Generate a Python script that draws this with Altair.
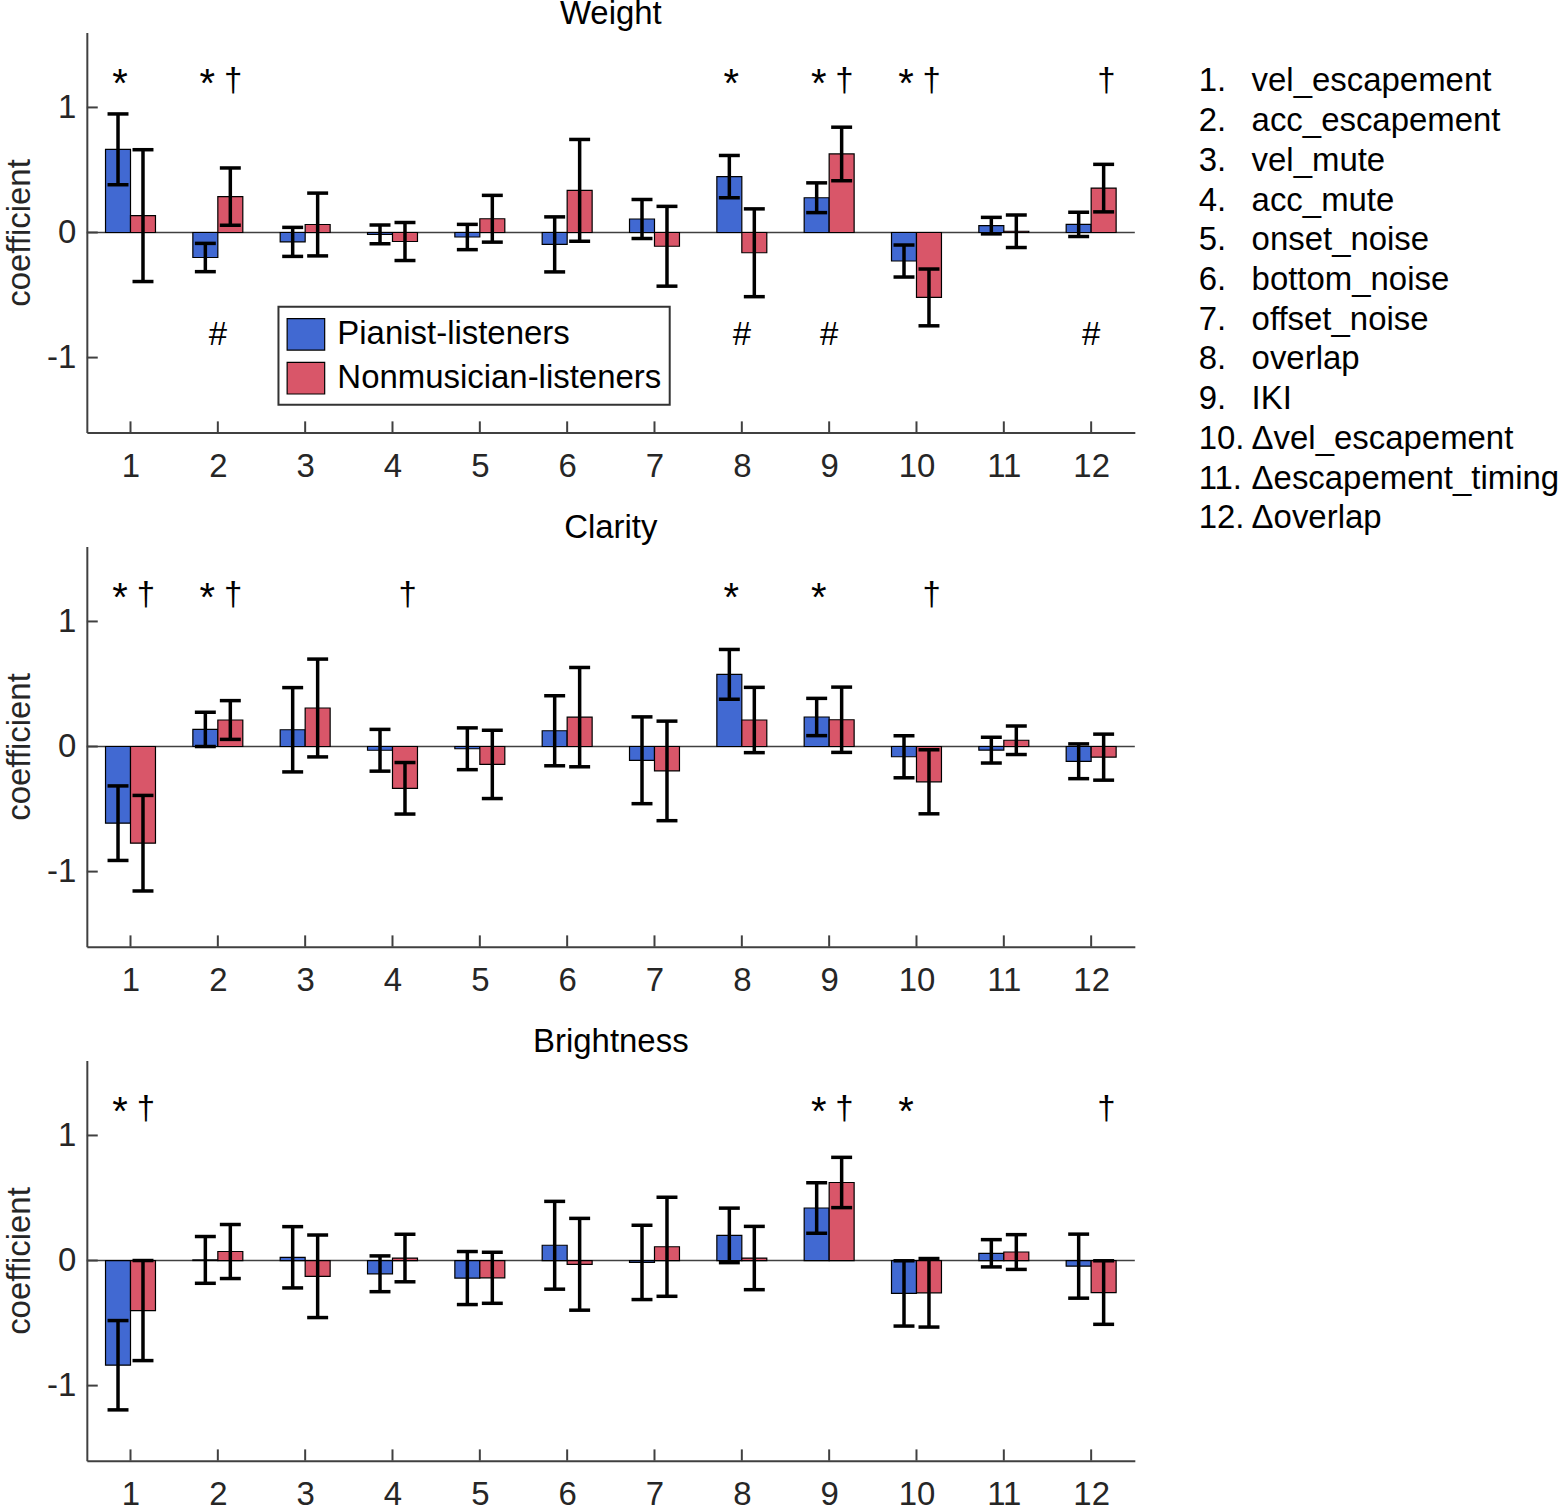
import altair as alt
import pandas as pd

# ---------------- data ----------------
categories = list(range(1, 13))
groups = ["Pianist-listeners", "Nonmusician-listeners"]
colors = ["#4169D2", "#D95669"]

features = ["vel_escapement", "acc_escapement", "vel_mute", "acc_mute",
            "onset_noise", "bottom_noise", "offset_noise", "overlap", "IKI",
            "\u0394vel_escapement", "\u0394escapement_timing", "\u0394overlap"]

weight_pianist = [0.665, -0.200, -0.075, -0.015, -0.036, -0.095, 0.108, 0.447, 0.278, -0.228, 0.055, 0.065]
weight_pianist_err = [0.283, 0.113, 0.116, 0.075, 0.101, 0.220, 0.156, 0.169, 0.119, 0.128, 0.066, 0.097]
weight_nonmus = [0.135, 0.287, 0.064, -0.072, 0.110, 0.337, -0.110, -0.162, 0.628, -0.519, 0.010, 0.355]
weight_nonmus_err = [0.527, 0.229, 0.251, 0.152, 0.187, 0.407, 0.319, 0.351, 0.214, 0.227, 0.130, 0.190]

clarity_pianist = [-0.613, 0.137, 0.134, -0.030, -0.018, 0.126, -0.110, 0.577, 0.236, -0.082, -0.029, -0.118]
clarity_pianist_err = [0.298, 0.137, 0.337, 0.167, 0.167, 0.280, 0.347, 0.199, 0.149, 0.168, 0.103, 0.139]
clarity_nonmus = [-0.773, 0.212, 0.308, -0.334, -0.143, 0.235, -0.195, 0.212, 0.214, -0.282, 0.050, -0.085]
clarity_nonmus_err = [0.382, 0.155, 0.391, 0.206, 0.273, 0.397, 0.398, 0.261, 0.261, 0.256, 0.114, 0.184]

bright_pianist = [-0.837, 0.005, 0.026, -0.106, -0.140, 0.122, -0.015, 0.201, 0.420, -0.263, 0.058, -0.045]
bright_pianist_err = [0.357, 0.187, 0.245, 0.143, 0.212, 0.351, 0.297, 0.218, 0.202, 0.261, 0.109, 0.256]
bright_nonmus = [-0.400, 0.072, -0.126, 0.020, -0.138, -0.030, 0.110, 0.020, 0.624, -0.258, 0.068, -0.256]
bright_nonmus_err = [0.400, 0.216, 0.330, 0.190, 0.204, 0.367, 0.396, 0.253, 0.201, 0.274, 0.139, 0.254]

# significance markers (category numbers)
weight_star = [1, 2, 8, 9, 10]
weight_dagger = [2, 9, 10, 12]
weight_hash = [2, 8, 9, 12]
clarity_star = [1, 2, 8, 9]
clarity_dagger = [1, 2, 4, 10]
clarity_hash = []
bright_star = [1, 9, 10]
bright_dagger = [1, 9, 12]
bright_hash = []

y_ticks = [-1, 0, 1]

# ---------------- style ----------------
FONT = "Liberation Sans"
FS = 33
W, H = 1050, 401
XDOM = [0.5, 12.5]
YDOM = [-1.6, 1.6]
BAR_HALF = 0.143
CAP_HALF = 0.12
AXIS_COL = "#404040"

xscale = alt.Scale(domain=XDOM, nice=False, zero=False)
yscale = alt.Scale(domain=YDOM, nice=False, zero=False)
xaxis = alt.Axis(values=categories, format="d", title=None, ticks=False, tickSize=0, grid=False,
                 labelFontSize=FS, labelFont=FONT, labelColor="#262626", labelPadding=18,
                 domainColor=AXIS_COL, domainWidth=2, labelFlush=False)
yaxis = alt.Axis(values=y_ticks, format="d", title="coefficient", ticks=False, tickSize=0, grid=False,
                 labelFontSize=FS, labelFont=FONT, labelColor="#262626", labelPadding=11,
                 titleFontSize=FS, titleFont=FONT, titleFontWeight="normal", titleColor="#262626",
                 titlePadding=10, domainColor=AXIS_COL, domainWidth=2,
                 labelExpr="replace(datum.label, '\u2212', '-')")


def X(field):
    return alt.X(field, type="quantitative", scale=xscale, axis=xaxis)


def Y(field):
    return alt.Y(field, type="quantitative", scale=yscale, axis=yaxis)


def feature_list_layer():
    list_df = pd.DataFrame({"row": categories,
                            "num": [f"{c}." for c in categories],
                            "name": features})
    ly = alt.Y("row:Q", scale=alt.Scale(domain=[1, 12], range=[49, 487], nice=False, zero=False),
               axis=None)
    lx = alt.Scale(domain=[0, 1], range=[1114, 1167], nice=False, zero=False)
    base = alt.Chart(list_df).transform_calculate(c0="0", c1="1")
    nums = base.mark_text(align="left", baseline="middle", fontSize=FS, font=FONT,
                          color="black").encode(x=alt.X("c0:Q", scale=lx, axis=None), y=ly, text="num:N")
    names = base.mark_text(align="left", baseline="middle", fontSize=FS, font=FONT,
                           color="black").encode(x=alt.X("c1:Q", scale=lx, axis=None), y=ly, text="name:N")
    return alt.layer(nums, names)


def panel(title, p_vals, p_err, n_vals, n_err, stars, daggers, hashes, first):
    rows = []
    for gi, (vals, errs) in enumerate([(p_vals, p_err), (n_vals, n_err)]):
        off = -BAR_HALF if gi == 0 else BAR_HALF
        for c, v, e in zip(categories, vals, errs):
            xc = c + off
            rows.append({"cat": c, "group": groups[gi], "value": v,
                         "x0": xc - BAR_HALF, "x1": xc + BAR_HALF, "xc": xc,
                         "lo": v - e, "hi": v + e,
                         "c0": xc - CAP_HALF, "c1": xc + CAP_HALF})
    df = pd.DataFrame(rows)

    if first:
        legend = alt.Legend(orient="none", legendX=192, legendY=275, title=None,
                            labelFontSize=FS, labelFont=FONT, labelColor="black", labelLimit=0,
                            symbolType="M-1,-0.84H1V0.84H-1Z", symbolSize=1414,
                            symbolStrokeColor="black", symbolStrokeWidth=1.2,
                            symbolOpacity=1, strokeColor="#333333", fillColor="white",
                            padding=8, rowPadding=6, labelOffset=12)
    else:
        legend = None

    color = alt.Color("group:N", scale=alt.Scale(domain=groups, range=colors), legend=legend)

    base = alt.Chart(df)

    zero = alt.Chart(pd.DataFrame({"z": [0]})).mark_rule(color=AXIS_COL, strokeWidth=1.5).encode(
        y=Y("z"))

    xt = alt.Chart(pd.DataFrame({"cat": categories})).mark_rule(color=AXIS_COL, strokeWidth=2).encode(
        x=X("cat"), y=alt.datum(YDOM[0]), y2=alt.datum(YDOM[0] + 0.09))
    yt = alt.Chart(pd.DataFrame({"v": y_ticks})).mark_rule(color=AXIS_COL, strokeWidth=2).encode(
        y=Y("v"), x=alt.datum(XDOM[0]), x2=alt.datum(XDOM[0] + 0.125))

    bars = base.mark_bar(stroke="black", strokeWidth=1.2, opacity=1).encode(
        x=X("x0"), x2="x1", y=Y("value"), y2=alt.datum(0), color=color)

    err = base.mark_rule(color="black", strokeWidth=3.5).encode(
        x=X("xc"), y=Y("lo"), y2="hi")
    cap_lo = base.mark_rule(color="black", strokeWidth=3.5).encode(
        x=X("c0"), x2="c1", y=Y("lo"))
    cap_hi = base.mark_rule(color="black", strokeWidth=3.5).encode(
        x=X("c0"), x2="c1", y=Y("hi"))

    layers = [zero, xt, yt, bars, err, cap_lo, cap_hi]

    def marks(cats, sym, dxu, yv, fs):
        d = pd.DataFrame({"cat": cats, "s": [sym] * len(cats)})
        return alt.Chart(d).transform_calculate(xs=f"datum.cat + ({dxu})").mark_text(
            fontSize=fs, font=FONT, color="black", baseline="alphabetic", align="center").encode(
            x=X("xs"), y=alt.datum(yv), text="s:N")

    if stars:
        layers.append(marks(stars, "*", -0.12, 1.08, 40))
    if daggers:
        layers.append(marks(daggers, "\u2020", 0.175, 1.13, FS))
    if hashes:
        layers.append(marks(hashes, "#", 0.0, -0.90, FS))

    main = alt.layer(*layers)
    if first:
        main = alt.layer(main, feature_list_layer()).resolve_scale(x="independent", y="independent")

    return main.properties(
        width=W, height=H,
        title=alt.TitleParams(title, fontSize=FS, font=FONT, fontWeight="normal",
                              color="black", anchor="middle", offset=1))


p1 = panel("Weight", weight_pianist, weight_pianist_err, weight_nonmus, weight_nonmus_err,
           weight_star, weight_dagger, weight_hash, True)
p2 = panel("Clarity", clarity_pianist, clarity_pianist_err, clarity_nonmus, clarity_nonmus_err,
           clarity_star, clarity_dagger, clarity_hash, False)
p3 = panel("Brightness", bright_pianist, bright_pianist_err, bright_nonmus, bright_nonmus_err,
           bright_star, bright_dagger, bright_hash, False)

chart = alt.vconcat(p1, p2, p3, spacing=114, bounds="flush").resolve_scale(
    color="independent").resolve_legend(color="independent").properties(
    padding={"left": 3, "top": -3, "right": 0, "bottom": 0}
).configure(font=FONT).configure_view(stroke=None).configure_legend(strokeWidth=2)

chart.save("out.html", embed_options={"renderer": "svg", "actions": False})
